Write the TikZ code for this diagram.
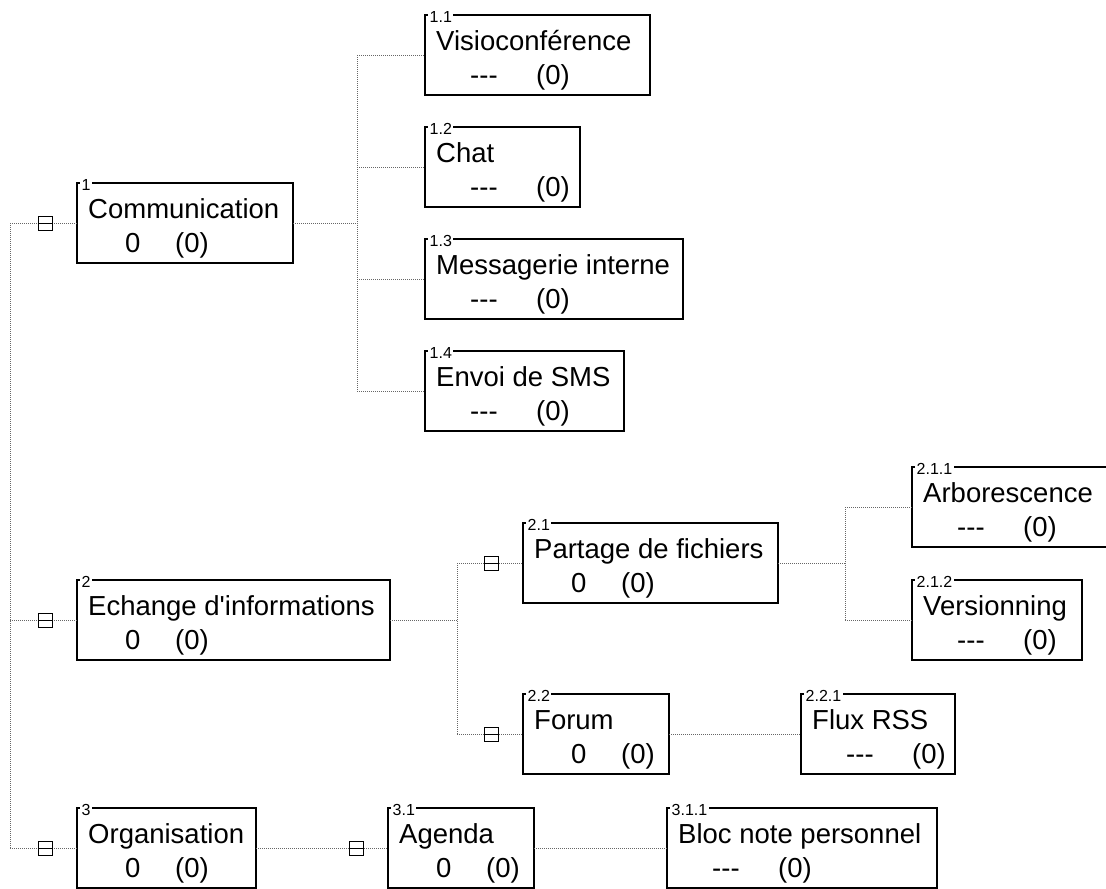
\documentclass[tikz,border=0pt]{standalone}
\usepackage{fontspec}
\newfontfamily\wbsfont{Liberation Sans}
\usetikzlibrary{calc}
\tikzset{
  wbsbox/.style={draw=black, line width=1.3pt, rectangle, minimum height=80pt,
    outer sep=0pt, inner sep=0pt, anchor=north west},
  numlbl/.style={anchor=west, fill=white, inner xsep=1.5pt, inner ysep=0.5pt,
    font=\wbsfont\fontsize{16}{16}\selectfont},
  titletxt/.style={anchor=base west, inner sep=0pt,
    font=\wbsfont\fontsize{27.5}{30}\selectfont},
  conn/.style={draw=black!60, line width=0.9pt, dash pattern=on 1pt off 1pt},
  toggle/.style={draw=black, line width=1pt, fill=white, minimum width=14pt,
    minimum height=14pt, inner sep=0pt,
    path picture={\draw[line width=1pt] (path picture bounding box.west) -- (path picture bounding box.east);}},
}
\newcommand\wbsframe[5]{%
  \node[wbsbox, minimum width={(#4)-(#2)}] (#1) at (#2,#3) {};
  \node[numlbl] (#1-num) at (#2+3,#3+1.5) {#5};
}
\newcommand\wbsZero[6]{%
  \wbsframe{#1}{#2}{#3}{#4}{#5}
  \node[titletxt] (#1-title) at (#2+11,#3+35) {#6};
  \node[titletxt] (#1-v) at (#2+48,#3+69) {0};
  \node[titletxt] (#1-c) at (#2+98,#3+69) {(0)};
}
\newcommand\wbsDash[6]{%
  \wbsframe{#1}{#2}{#3}{#4}{#5}
  \node[titletxt] (#1-title) at (#2+11,#3+35) {#6};
  \node[titletxt] (#1-v) at (#2+45,#3+69) {-{}-{}-};
  \node[titletxt] (#1-c) at (#2+111,#3+69) {(0)};
}
\begin{document}
\begin{tikzpicture}[x=1pt,y=-1pt]
\useasboundingbox (0,0) rectangle (1106,889);
\clip (0,0) rectangle (1106,889);
% boxes
\wbsZero{n1}{77}{183}{293}{1}{Communication}
\wbsDash{n11}{425}{15}{650}{1.1}{Visioconférence}
\wbsDash{n12}{425}{127}{580}{1.2}{Chat}
\wbsDash{n13}{425}{239}{683}{1.3}{Messagerie interne}
\wbsDash{n14}{425}{351}{624}{1.4}{Envoi de SMS}
\wbsZero{n2}{77}{580}{390}{2}{Echange d'informations}
\wbsZero{n21}{523}{523}{778}{2.1}{Partage de fichiers}
\wbsDash{n211}{912}{467}{1112}{2.1.1}{Arborescence}
\wbsDash{n212}{912}{580}{1082}{2.1.2}{Versionning}
\wbsZero{n22}{523}{694}{669}{2.2}{Forum}
\wbsDash{n221}{801}{694}{955}{2.2.1}{Flux RSS}
\wbsZero{n3}{77}{808}{256}{3}{Organisation}
\wbsZero{n31}{388}{808}{534}{3.1}{Agenda}
\wbsDash{n311}{667}{808}{937}{3.1.1}{Bloc note personnel}
% bus coordinates
\coordinate (root) at (10,0);
\coordinate (bus1) at (357,0);
\coordinate (bus2) at (457,0);
\coordinate (bus21) at (845,0);
% root connectors
\draw[conn] (n1.west -| root) -- (n3.west -| root);
\foreach \n in {n1,n2,n3} \draw[conn] (\n.west -| root) -- (\n.west);
% level 1 -> children
\draw[conn] (n1.east) -- (n1.east -| bus1);
\draw[conn] (n11.west -| bus1) -- (n14.west -| bus1);
\foreach \n in {n11,n12,n13,n14} \draw[conn] (\n.west -| bus1) -- (\n.west);
\draw[conn] (n2.east) -- (n2.east -| bus2);
\draw[conn] (n21.west -| bus2) -- (n22.west -| bus2);
\foreach \n in {n21,n22} \draw[conn] (\n.west -| bus2) -- (\n.west);
\draw[conn] (n21.east) -- (n21.east -| bus21);
\draw[conn] (n211.west -| bus21) -- (n212.west -| bus21);
\foreach \n in {n211,n212} \draw[conn] (\n.west -| bus21) -- (\n.west);
\draw[conn] (n22.east) -- (n221.west);
\draw[conn] (n3.east) -- (n31.west);
\draw[conn] (n31.east) -- (n311.west);
% toggles
\foreach \n in {n1,n2,n3,n21,n22,n31}
  \node[toggle] (\n-tg) at ($(\n.west)+(-32,0)$) {};
\end{tikzpicture}
\end{document}
